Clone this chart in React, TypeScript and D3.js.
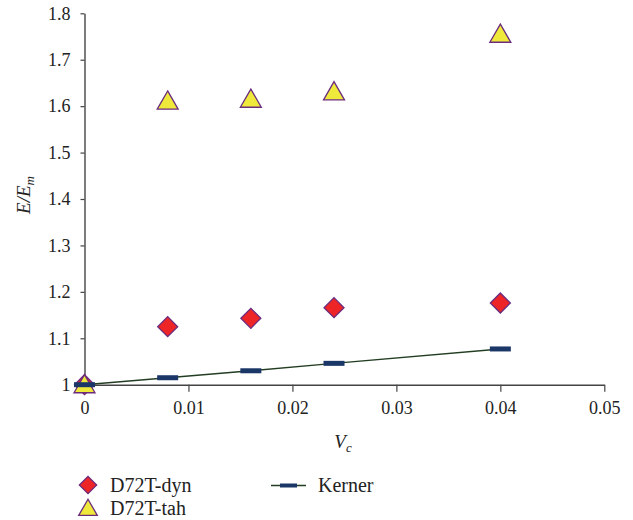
import React, { useRef, useEffect } from 'react';
import * as d3 from 'd3';

const xValues = [0, 0.008, 0.016, 0.024, 0.04];
const dynValues = [1.0, 1.125, 1.143, 1.166, 1.176];
const tahValues = [1.0, 1.611, 1.615, 1.631, 1.755];
const kernerValues = [1.0, 1.015, 1.03, 1.046, 1.077];
const xTicks = [0, 0.01, 0.02, 0.03, 0.04, 0.05];
const yTicks = [1, 1.1, 1.2, 1.3, 1.4, 1.5, 1.6, 1.7, 1.8];

const font = "Liberation Serif, DejaVu Serif, Times New Roman, serif";
const axisColor = '#444';
const diamondFill = '#ee2526';
const triFill = '#eee93a';
const markStroke = '#6b2c7d';
const kernerColor = '#1b3768';
const lineColor = '#233d23';

const App = () => {
  const ref = useRef<SVGSVGElement>(null);

  useEffect(() => {
    const svg = d3.select(ref.current);
    svg.selectAll('*').remove();

    const x = d3.scaleLinear().domain([0, 0.05]).range([84.5, 604.3]);
    const y = d3.scaleLinear().domain([1, 1.8]).range([384.7, 13.3]);

    // axes
    const gx = svg.append('g').attr('transform', `translate(0,${y(1)})`);
    gx.call(
      d3.axisBottom(x).tickValues(xTicks).tickSize(7).tickSizeOuter(0)
        .tickFormat((d: any) => (d === 0 ? '0' : d3.format('.2f')(d)))
    );
    gx.attr('font-family', null);
    gx.select('.domain').attr('stroke', axisColor).attr('stroke-width', 1.4);
    gx.selectAll('.tick line').attr('stroke', axisColor).attr('stroke-width', 1.2);
    gx.selectAll('.tick line').filter((d: any) => d === 0).remove();
    gx.selectAll('.tick text')
      .style('font-family', font).attr('font-size', 18).attr('fill', '#222').attr('dy', '1.05em');

    const gy = svg.append('g').attr('transform', `translate(${x(0)},0)`);
    gy.call(
      d3.axisLeft(y).tickValues(yTicks).tickSize(4).tickSizeOuter(0)
        .tickFormat((d: any) => (d === 1 ? '1' : d3.format('.1f')(d)))
    );
    gy.attr('font-family', null);
    gy.select('.domain').attr('stroke', axisColor).attr('stroke-width', 1.4);
    gy.selectAll('.tick line').attr('stroke', axisColor).attr('stroke-width', 1.2);
    gy.selectAll('.tick text')
      .style('font-family', font).attr('font-size', 18).attr('fill', '#222').attr('x', -14);

    // axis titles
    const xt = svg.append('text').attr('x', 343).attr('y', 448)
      .style('font-family', font).attr('font-size', 19).attr('font-style', 'italic')
      .attr('text-anchor', 'middle').attr('fill', '#222');
    xt.append('tspan').text('V');
    xt.append('tspan').attr('font-size', 13).attr('dy', 4).text('c');

    const yt = svg.append('text')
      .attr('transform', 'translate(30,195) rotate(-90)')
      .style('font-family', font).attr('font-size', 19).attr('font-style', 'italic')
      .attr('text-anchor', 'middle').attr('fill', '#222');
    yt.append('tspan').text('E/E');
    yt.append('tspan').attr('font-size', 13).attr('dy', 4).text('m');

    const diamond = d3.symbol().type(d3.symbolSquare).size(200);
    const triangle = d3.symbol().type(d3.symbolTriangle).size(190);

    const pts = xValues.map((v, i) => ({ x: v, dyn: dynValues[i], tah: tahValues[i], k: kernerValues[i] }));

    // D72T-dyn
    svg.append('g').selectAll('path').data(pts).enter().append('path')
      .attr('d', diamond)
      .attr('transform', d => `translate(${x(d.x)},${y(d.dyn)}) rotate(45)`)
      .attr('fill', diamondFill).attr('stroke', markStroke).attr('stroke-width', 1.3);

    // D72T-tah
    svg.append('g').selectAll('path').data(pts).enter().append('path')
      .attr('d', triangle)
      .attr('transform', d => `translate(${x(d.x)},${y(d.tah) + 2})`)
      .attr('fill', triFill).attr('stroke', markStroke).attr('stroke-width', 1.3);

    // Kerner
    const line = d3.line<any>().x(d => x(d.x)).y(d => y(d.k));
    svg.append('path').datum(pts).attr('d', line)
      .attr('fill', 'none').attr('stroke', lineColor).attr('stroke-width', 1.4);
    svg.append('g').selectAll('rect').data(pts).enter().append('rect')
      .attr('x', d => x(d.x) - 10.5).attr('y', d => y(d.k) - 2.5)
      .attr('width', 21).attr('height', 5).attr('fill', kernerColor);

    // legend
    const lg = svg.append('g').style('font-family', font).attr('font-size', 20).attr('fill', '#222');
    lg.append('path').attr('d', d3.symbol().type(d3.symbolSquare).size(150))
      .attr('transform', 'translate(88,485) rotate(45)')
      .attr('fill', diamondFill).attr('stroke', markStroke).attr('stroke-width', 1.3);
    lg.append('text').attr('x', 110).attr('y', 492).text('D72T-dyn');
    lg.append('path').attr('d', d3.symbol().type(d3.symbolTriangle).size(150))
      .attr('transform', 'translate(88,510)')
      .attr('fill', triFill).attr('stroke', markStroke).attr('stroke-width', 1.3);
    lg.append('text').attr('x', 110).attr('y', 515).text('D72T-tah');
    lg.append('line').attr('x1', 271).attr('x2', 306).attr('y1', 485.5).attr('y2', 485.5)
      .attr('stroke', lineColor).attr('stroke-width', 1.4);
    lg.append('rect').attr('x', 280).attr('y', 483.5).attr('width', 17).attr('height', 4).attr('fill', kernerColor);
    lg.append('text').attr('x', 318).attr('y', 492).text('Kerner');
  }, []);

  return (
    <svg ref={ref} width={633} height={520}
      style={{ position: 'absolute', left: 0, top: 0, background: '#fff' }} />
  );
};

export default App;
